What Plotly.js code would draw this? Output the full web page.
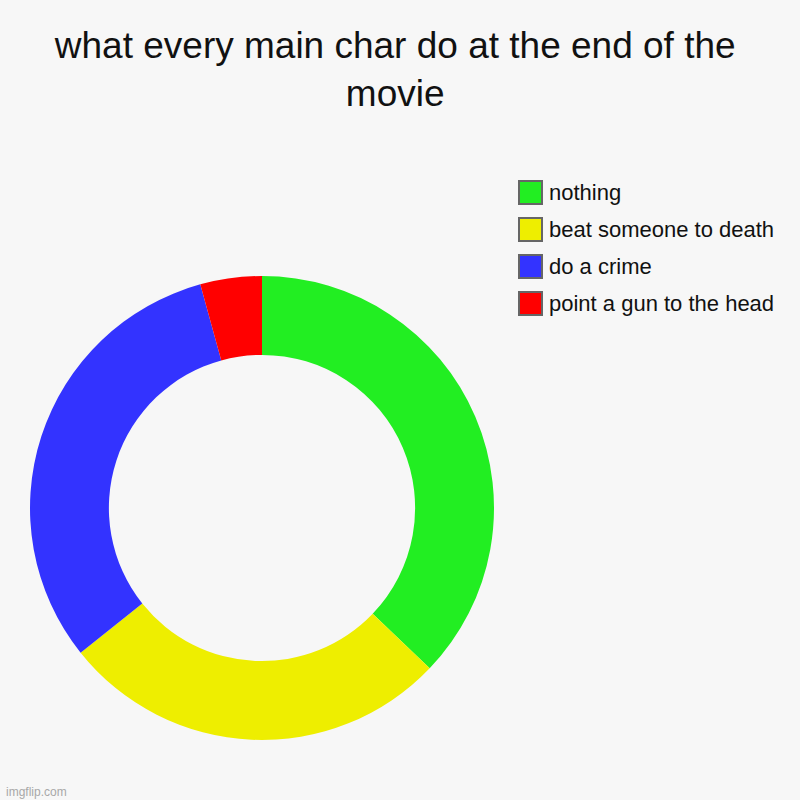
<!DOCTYPE html>
<html>
<head>
<meta charset="utf-8">
<script src="https://cdn.plot.ly/plotly-3.0.1.min.js"></script>
<style>
  html, body { margin: 0; padding: 0; background: #f7f7f7; }
  #chart { width: 800px; height: 800px; }
</style>
</head>
<body>
<div id="chart"></div>
<script>
const labels = ['nothing', 'beat someone to death', 'do a crime', 'point a gun to the head']
const values = [26, 19, 22, 3]
const colors = ['#22ee22', '#eeee00', '#3333ff', '#ff0000']

const W = 800, H = 800
const px = x => x / W
const py = y => 1 - y / H

// hand-made legend, plotly's pie swatches are too small
const shapes = []
const annotations = []
labels.forEach((lab, i) => {
    const cy = 192.5 + i * 37
    shapes.push({
        type: 'rect', xref: 'paper', yref: 'paper',
        x0: px(519), x1: px(542), y0: py(cy - 11.5), y1: py(cy + 11.5),
        fillcolor: colors[i], line: { color: '#666666', width: 2 }
    })
    annotations.push({
        xref: 'paper', yref: 'paper', x: px(547), y: py(cy),
        xanchor: 'left', yanchor: 'middle', showarrow: false,
        text: lab, font: { family: 'Liberation Sans, Arial', size: 22, color: '#111111' }
    })
})

annotations.push({
    xref: 'paper', yref: 'paper', x: px(4), y: py(792),
    xanchor: 'left', yanchor: 'middle', showarrow: false,
    text: 'imgflip.com', font: { family: 'Liberation Sans, Arial', size: 12, color: '#a8a8a8' }
})

const trace = {
    type: 'pie',
    labels: labels,
    values: values,
    marker: { colors: colors, line: { width: 0 } },
    hole: 0.66,
    sort: false,
    direction: 'clockwise',
    rotation: 0,
    textinfo: 'none',
    showlegend: false,
    domain: { x: [px(30), px(494)], y: [py(740), py(276)] }
}

const layout = {
    width: W, height: H,
    margin: { l: 0, r: 0, t: 0, b: 0 },
    paper_bgcolor: '#f7f7f7',
    title: {
        text: 'what every main char do at the end of the<br>movie',
        font: { family: 'Liberation Sans, Arial', size: 37, color: '#111111' },
        x: 0.494, xanchor: 'center',
        y: py(58), yanchor: 'top'
    },
    shapes: shapes,
    annotations: annotations
}

Plotly.newPlot('chart', [trace], layout, { displayModeBar: false })
</script>
</body>
</html>
